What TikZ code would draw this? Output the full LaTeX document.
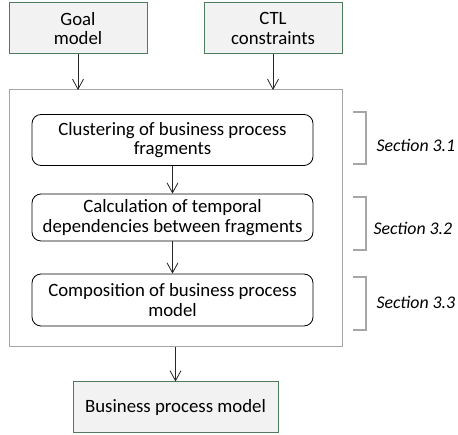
\documentclass[tikz,border=0pt]{standalone}
\usepackage{fontspec}
\setmainfont{Carlito}
\usetikzlibrary{arrows.meta}
\definecolor{inbox}{HTML}{F2F2F2}
\definecolor{inedge}{HTML}{4F7A5C}
\definecolor{frame}{HTML}{A6A6A6}
\definecolor{conn}{HTML}{262626}
\begin{document}
\begin{tikzpicture}[x=1pt,y=-1pt,
  iobox/.style={draw=inedge,fill=inbox,line width=1pt,inner sep=0pt,align=center,font=\fontsize{18.8}{19.5}\selectfont},
  stepbox/.style={draw=black,fill=white,rounded corners=9pt,line width=0.8pt,inner sep=0pt,align=center,font=\fontsize{18.8}{19.5}\selectfont},
  link/.style={draw=conn,line width=0.8pt,-{Straight Barb[length=10pt,width=11pt,line width=0.8pt]}},
  brk/.style={draw=frame,line width=1.2pt},
  sec/.style={anchor=west,font=\fontsize{17.8}{20}\selectfont\itshape}]
\useasboundingbox (0,0) rectangle (458,435);
% inputs
\node[iobox,minimum width=138pt,minimum height=51pt] (goal) at (78,28.5) {Goal\\model};
\node[iobox,minimum width=138pt,minimum height=51pt] (ctl) at (273,28.5) {CTL\\constraints};
% method frame
\node[draw=frame,line width=1pt,minimum width=333pt,minimum height=257pt,inner sep=0pt] (frm) at (175.5,218.5) {};
\coordinate (frmgoal) at (78,90);
\coordinate (frmctl) at (273,90);
% steps
\node[stepbox,minimum width=281pt,minimum height=51pt] (s1) at (172.5,140) {Clustering of business process\\fragments};
\node[stepbox,minimum width=281pt,minimum height=47pt] (s2) at (172.5,217.5) {Calculation of temporal\\dependencies between fragments};
\node[stepbox,minimum width=281pt,minimum height=52pt] (s3) at (172.5,300) {Composition of business process\\model};
% output
\node[iobox,minimum width=205pt,minimum height=51pt] (bpm) at (175.5,407.5) {Business process model};
% connectors
\draw[link] (goal.south) -- (frmgoal);
\draw[link] (ctl.south) -- (frmctl);
\draw[link] (s1.south) -- (s2.north);
\draw[link] (s2.south) -- (s3.north);
\draw[link] (frm.south) -- (bpm.north);
% section brackets
\draw[brk] (353,112) -- (366,112) -- (366,164) -- (353,164);
\draw[brk] (353,197) -- (366,197) -- (366,250) -- (353,250);
\draw[brk] (353,277) -- (366,277) -- (366,330) -- (353,330);
\node[sec] (l1) at (373,145) {Section 3.1};
\node[sec] (l2) at (370,228) {Section 3.2};
\node[sec] (l3) at (373,302) {Section 3.3};
\end{tikzpicture}
\end{document}
